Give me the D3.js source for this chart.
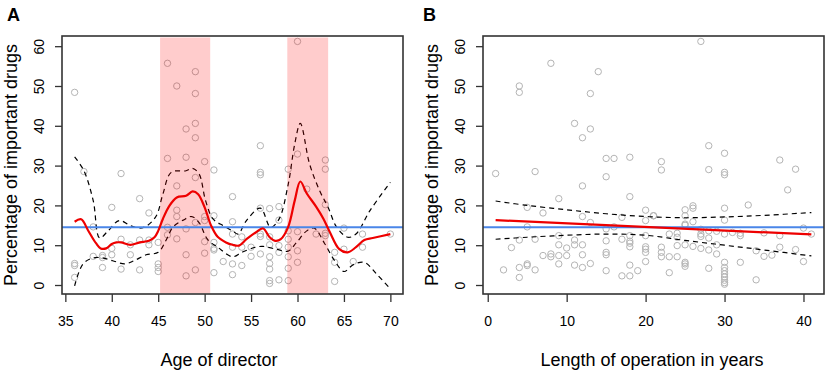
<!DOCTYPE html>
<html>
<head>
<meta charset="utf-8">
<script src="https://cdn.jsdelivr.net/npm/d3@7"></script>
<style>
  body { margin: 0; background: #fff; }
  text { font-family: "Liberation Sans", Arial, Helvetica, sans-serif; fill: #000; }
</style>
</head>
<body>
<div id="chart"></div>
<script>
// Panel A: age of director vs percentage of important drugs
const ageA = [36,36,36,36,37,38,38,39,39,39,40,40,40,41,41,41,42,42,43,43,43,44,44,44,
  45,45,45,45,46,46,46,46,47,47,47,47,47,48,48,48,48,48,49,49,49,49,49,49,49,
  50,50,50,50,50,51,51,51,51,51,51,52,53,53,53,53,53,53,54,54,54,55,55,
  56,56,56,56,56,56,56,57,57,57,57,57,57,57,57,58,58,58,58,58,
  59,59,59,59,59,59,59,60,60,60,60,60,61,62,63,63,63,63,63,64,64,64,65,65,66,67,67,70];
const pctA = [48.4,5.4,4.9,1.9,28.5,14.6,7.2,7.4,6.9,4.4,19.5,9.2,7.6,28.0,11.5,4.0,10.1,7.6,21.7,11.3,3.8,18.1,11.3,10.1,
  10.7,5.3,4.4,3.4,55.7,31.8,14.5,12.6,50.0,24.9,18.8,17.2,11.6,39.2,32.1,14.1,7.6,2.3,53.6,48.1,40.6,37.0,27.0,15.7,3.8,
  31.0,17.2,16.2,10.9,8.0,28.9,17.4,10.7,9.2,8.8,3.1,5.9,22.2,15.9,12.8,9.5,5.3,2.6,12.1,9.5,4.9,9.5,7.2,
  35.0,28.3,27.7,19.3,12.8,12.2,7.8,19.2,12.1,10.1,7.1,5.4,4.0,1.1,0.4,19.7,16.3,9.9,8.2,1.3,
  29.1,13.6,11.5,9.5,7.1,4.2,1.1,61.2,32.9,13.4,8.6,5.7,24.1,12.8,31.4,29.1,20.2,13.0,12.4,8.2,5.7,0.9,14.3,9.0,5.9,12.8,9.5,12.8];

// smoothed fit and confidence band, panel A
const fitAgeA = [36,36.7,37.5,38.3,38.8,39.4,40,40.5,41,42,43,44,44.6,45,45.5,46.2,47,48,48.7,49.3,50,50.7,51.4,52.3,53,
  53.7,54.5,55.5,56.3,57,57.6,58.2,59,59.7,60.3,61,62,62.8,63.5,64.5,65.4,66.3,67.2,68.1,70];
const fitA = [15.9,16.5,13.5,10.5,9.2,9.2,10.3,10.7,10.7,10.1,10.7,11.1,12,13.6,16.6,19.9,22.0,22.4,23.5,22.8,19.5,14.9,12.1,10.7,10.1,
  9.9,11.5,13.2,14.2,12.0,11.1,11.5,14.6,21.2,26.0,23.0,19.7,16.6,13.2,9.0,8.2,9.5,11.3,11.8,12.8];
const upAgeA = [36,37,38,38.7,39.6,40.8,42,43,43.8,44.8,45.5,46.4,48,48.7,49.4,50.1,50.9,52,53,53.6,54.5,56,57.1,58,59,59.7,60.3,
  61.3,62.4,63.3,64.2,65.4,66.3,67.8,70];
const upA = [32.2,28.7,21.2,11.8,13.6,16.2,14.9,14.3,14.9,17.4,22.8,28.3,28.7,29.3,27.9,21.2,16.6,14.9,13.6,12.8,16.2,19.3,14.5,16.5,25.3,35.4,40.6,
  30.4,23.6,19.5,14.6,12.0,12.8,18.7,25.8];
const loAgeA = [36,36.9,38,39,40.1,41.4,42.4,43.7,45,45.9,46.6,47.7,48.6,49.4,50.3,51.4,53,54,55.5,56.3,57.7,59,59.9,61,61.8,62.9,
  64,65,66,67.2,68.5,70];
const loA = [-0.2,5.3,6.8,6.8,6.1,5.3,6.1,7.6,8.2,11.5,14.6,16.3,17.2,15.7,11.5,9.5,7.1,8.2,9.5,9.7,9.0,8.5,10.7,13.6,14.3,10.5,
  6.1,3.4,5.1,5.7,2.8,-1.0];
const bandsA = [[45.2, 50.6], [58.9, 63.3]];

// Panel B: length of operation vs percentage of important drugs
const yearsB = [1,2,3,4,4,4,4,4,5,5,5,5,6,6,6,7,7,8,8,8,9,9,9,9,9,10,10,11,11,11,11,
  12,12,12,12,12,12,13,13,13,13,14,15,15,15,15,15,15,15,16,16,17,17,17,
  18,18,18,18,18,18,18,18,19,20,20,20,20,20,20,20,21,21,
  22,22,22,22,22,23,23,23,24,24,24,24,25,25,25,25,25,25,25,25,26,26,26,26,
  27,27,27,27,27,28,28,28,28,28,28,29,29,29,30,30,30,30,30,30,30,30,30,30,30,30,30,30,
  31,32,32,32,33,34,34,35,35,36,37,37,37,38,39,39,40,40,41];
const pctB = [28.0,3.8,9.4,50.0,48.4,11.3,4.4,1.9,19.5,14.6,5.3,4.9,28.5,11.5,3.8,18.1,7.4,55.7,7.8,7.1,21.7,12.4,10.1,7.4,5.3,9.3,7.4,40.6,11.3,10.1,5.0,
  37.0,24.9,17.2,10.1,7.6,4.4,48.1,39.2,15.7,5.4,53.6,31.8,27.2,14.1,11.1,8.2,7.6,3.6,31.8,14.6,17.0,11.5,2.3,
  32.1,22.2,12.4,11.0,10.5,9.6,5.0,2.3,3.6,18.8,16.2,12.4,9.6,9.0,8.2,5.9,17.4,17.4,
  31.0,28.9,9.5,8.2,7.1,12.8,7.1,3.1,13.0,12.0,9.9,7.1,18.9,17.4,15.3,10.1,5.7,5.3,4.7,15.0,19.9,19.3,15.9,9.7,
  61.2,12.8,12.2,9.2,14.0,35.0,29.0,13.6,11.8,8.8,4.2,13.5,10.1,7.8,33.1,28.3,27.7,19.3,16.3,12.8,5.7,4.4,3.6,2.8,2.0,1.2,0.6,0.2,
  13.2,13.0,12.4,5.7,20.1,8.6,1.3,13.1,7.2,7.5,31.4,12.4,9.5,23.9,29.1,8.9,14.3,5.9,12.8];

// linear fit and confidence band, panel B
const fitYearsB = [1, 41];
const fitB = [16.3, 12.7];
const ciYearsB = [1,5,10,15,20,25,30,35,41];
const upB = [21.1,20.0,18.9,17.9,17.2,16.9,17.1,17.5,18.2];
const loB = [11.5,12.0,12.5,12.8,12.5,11.2,10.0,8.8,7.3];

const overallMean = 14.5;
const yTicks = [0,10,20,30,40,50,60];
const xTicksA = [35,40,45,50,55,60,65,70];
const xTicksB = [0,10,20,30,40];

const width = 829, height = 374;
const plotTop = 36, plotBottom = 294;

const svg = d3.select("#chart").append("svg")
  .attr("width", width).attr("height", height);

function panel(opt) {
  const x = d3.scaleLinear().domain(opt.xDomain).range([opt.left, opt.right]);
  const y = d3.scaleLinear().domain([-2.26, 62.56]).range([plotBottom, plotTop]);
  const g = svg.append("g");

  // points
  g.selectAll("circle").data(opt.xs.map((v, i) => [v, opt.ys[i]])).enter()
    .append("circle")
    .attr("cx", d => x(d[0]))
    .attr("cy", d => y(d[1]))
    .attr("r", 3.2)
    .attr("fill", "none")
    .attr("stroke", "#b4b4b4")
    .attr("stroke-width", 1);

  const line = d3.line().x(d => x(d[0])).y(d => y(d[1])).curve(d3.curveCatmullRom);

  // confidence limits
  [[opt.upX, opt.up], [opt.loX, opt.lo]].forEach(function (s) {
    g.append("path")
      .datum(s[0].map((v, i) => [v, s[1][i]]))
      .attr("d", line)
      .attr("fill", "none")
      .attr("stroke", "#000")
      .attr("stroke-width", 1.2)
      .attr("stroke-dasharray", "5,4");
  });

  // shaded intervals
  (opt.bands || []).forEach(function (b) {
    g.append("rect")
      .attr("x", x(b[0]))
      .attr("width", x(b[1]) - x(b[0]))
      .attr("y", plotTop + 1.5)
      .attr("height", plotBottom - plotTop - 2)
      .attr("fill", "rgba(255,0,0,0.2)");
  });

  // overall mean
  g.append("line")
    .attr("x1", opt.left).attr("x2", opt.right)
    .attr("y1", y(overallMean)).attr("y2", y(overallMean))
    .attr("stroke", "#4a86e8").attr("stroke-width", 2);

  // fitted curve
  g.append("path")
    .datum(opt.fitX.map((v, i) => [v, opt.fit[i]]))
    .attr("d", line)
    .attr("fill", "none")
    .attr("stroke", "#ee0000")
    .attr("stroke-width", 2.2);

  // box
  g.append("rect")
    .attr("x", opt.left).attr("y", plotTop)
    .attr("width", opt.right - opt.left).attr("height", plotBottom - plotTop)
    .attr("fill", "none").attr("stroke", "#333").attr("stroke-width", 1.6);

  // axes
  const xAxis = g.append("g")
    .attr("transform", `translate(0,${plotBottom})`)
    .call(d3.axisBottom(x).tickValues(opt.xTicks).tickSize(8).tickFormat(d3.format("d")));
  xAxis.select(".domain").remove();
  xAxis.selectAll("line").attr("stroke", "#333").attr("stroke-width", 1.3);
  xAxis.selectAll("text")
    .attr("y", 32).attr("dy", 0)
    .style("font-size", "14px").attr("fill", "#000");

  const yAxis = g.append("g")
    .attr("transform", `translate(${opt.left},0)`)
    .call(d3.axisLeft(y).tickValues(yTicks).tickSize(7));
  yAxis.select(".domain").remove();
  yAxis.selectAll("line").attr("stroke", "#333").attr("stroke-width", 1.3);
  yAxis.selectAll("text")
    .attr("transform", "rotate(-90)")
    .attr("x", 0).attr("y", -18).attr("dy", 0)
    .attr("text-anchor", "middle")
    .style("font-size", "14px").attr("fill", "#000");

  // titles
  g.append("text")
    .attr("x", opt.titleX).attr("y", 366)
    .attr("text-anchor", "middle").style("font-size", "18px")
    .text(opt.xTitle);
  g.append("text")
    .attr("transform", `translate(${opt.left - 45},${(plotTop + plotBottom) / 2}) rotate(-90)`)
    .attr("text-anchor", "middle").style("font-size", "18px")
    .text("Percentage of important drugs");
  g.append("text")
    .attr("x", opt.labelX).attr("y", 21)
    .style("font-size", "18px").style("font-weight", "bold")
    .text(opt.label);
}

panel({
  label: "A", labelX: 7, left: 62, right: 403, xDomain: [34.64, 71.36],
  xs: ageA, ys: pctA, fitX: fitAgeA, fit: fitA,
  upX: upAgeA, up: upA, loX: loAgeA, lo: loA, bands: bandsA,
  xTicks: xTicksA, xTitle: "Age of director", titleX: 219
});

panel({
  label: "B", labelX: 423, left: 483, right: 824, xDomain: [-0.6, 42.6],
  xs: yearsB, ys: pctB, fitX: fitYearsB, fit: fitB,
  upX: ciYearsB, up: upB, loX: ciYearsB, lo: loB, bands: [],
  xTicks: xTicksB, xTitle: "Length of operation in years", titleX: 652
});
</script>
</body>
</html>
